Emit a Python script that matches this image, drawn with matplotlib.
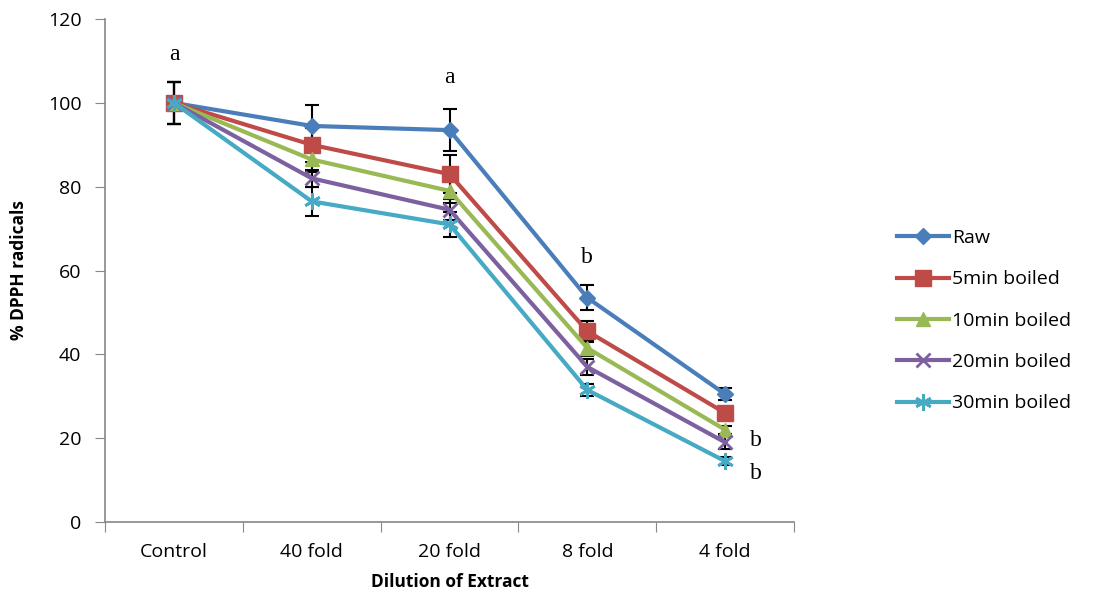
import numpy as np
import matplotlib
matplotlib.use('Agg')
import matplotlib.pyplot as plt

# data
categories = ['Control', '40 fold', '20 fold', '8 fold', '4 fold']
series_names = ['Raw', '5min boiled', '10min boiled', '20min boiled', '30min boiled']
raw = [100, 94.5, 93.5, 53.5, 30.5]
boiled5 = [100, 90, 83, 45.5, 26]
boiled10 = [100, 86.5, 79, 41.5, 22]
boiled20 = [100, 82, 74.5, 37, 19]
boiled30 = [100, 76.5, 71, 31.5, 14.5]
err_raw = [5, 5, 5, 3, 1.5]
err_5 = [5, 4, 4.5, 2.5, 1.5]
err_10 = [5, 3, 3, 2, 1]
err_20 = [5, 2, 2.5, 2, 1.5]
err_30 = [5, 3.5, 3, 1.5, 1]
letters = ['a', 'a', 'b', 'b', 'b']
letter_x = [0, 2, 3, 4.22, 4.22]
letter_y = [111.5, 106, 63, 19.5, 11.5]

values = [raw, boiled5, boiled10, boiled20, boiled30]
errors = [err_raw, err_5, err_10, err_20, err_30]
colors = ['#4A7EBB', '#BE4B48', '#98B954', '#7D60A0', '#46AAC5']
markers = ['D', 's', '^', 'x', (6, 2, 0)]
msizes = [8, 11, 10, 10, 12]

plt.rcParams['font.family'] = ['Open Sans', 'DejaVu Sans']

fig = plt.figure(figsize=(10.96, 5.96), dpi=100)
ax = fig.add_axes([0.0958, 0.1242, 0.6287, 0.8438])

x = np.arange(len(categories))
# error bars first so lines sit on top
for vals, errs in zip(values, errors):
    ax.errorbar(x, vals, yerr=errs, fmt='none', ecolor='black', elinewidth=1.5,
                capsize=5, capthick=1.5, zorder=2)
for vals, name, c, m, ms in zip(values, series_names, colors, markers, msizes):
    mew = 2 if m in ('x',) or isinstance(m, tuple) else 1
    ax.plot(x, vals, color=c, marker=m, markersize=ms, linewidth=3, label=name,
            markeredgewidth=mew, zorder=3)

for t, lx, ly in zip(letters, letter_x, letter_y):
    ax.text(lx, ly, t, ha='center', va='center', fontsize=17,
            family='Liberation Serif')

ax.set_xlim(-0.5, 4.5)
ax.set_ylim(0, 120)
ax.set_yticks(range(0, 121, 20))
ax.set_xticks(np.arange(-0.5, 5, 1))
ax.set_xticklabels([])
ax.set_xticks(x, minor=True)
ax.set_xticklabels(categories, minor=True)
ax.tick_params(axis='x', which='major', length=7, color='#888888', direction='out')
ax.tick_params(axis='x', which='minor', length=0, labelsize=14, pad=15)
ax.tick_params(axis='y', length=7, color='#888888', labelsize=14, pad=10)
for s in ['top', 'right']:
    ax.spines[s].set_visible(False)
for s in ['left', 'bottom']:
    ax.spines[s].set_color('#888888')
    ax.spines[s].set_linewidth(1.2)

ax.set_xlabel('Dilution of Extract', fontsize=12.5, fontweight='bold', labelpad=9)
ax.set_ylabel('% DPPH radicals', fontsize=12.5, fontweight='bold', labelpad=14)

ax.legend(loc='center left', bbox_to_anchor=(1.138, 0.40), frameon=False,
          fontsize=14, handlelength=2.7, labelspacing=1.2, handletextpad=0.15,
          borderaxespad=0)

fig.savefig('out.png', dpi=100)
